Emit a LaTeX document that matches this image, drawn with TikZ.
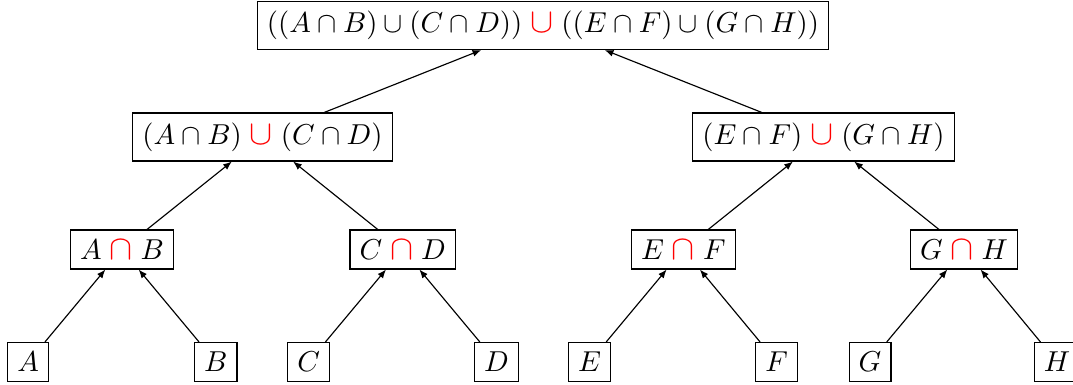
\documentclass[tikz,border=0pt]{standalone}
\usepackage{graphicx}
\usetikzlibrary{arrows.meta}
\newcommand{\rcup}{\mathrel{\textcolor{red}{\scalebox{1.2}{$\cup$}}}}
\newcommand{\rcap}{\mathrel{\textcolor{red}{\scalebox{1.2}{$\cap$}}}}
\begin{document}
\begin{tikzpicture}[x=0.3472pt,y=-0.3472pt,
  box/.style={draw, inner sep=3.333pt},
  edge/.style={-{Latex[length=3pt,width=2.4pt]}}]
\useasboundingbox (0,0) rectangle (1073,385);
\node[box] (top) at (543,25.5) {$((A\cap B)\cup(C\cap D))\rcup((E\cap F)\cup(G\cap H))$};
\node[box] (abcd) at (262.5,137) {$(A\cap B)\rcup(C\cap D)$};
\node[box] (efgh) at (823.5,137) {$(E\cap F)\rcup(G\cap H)$};
\node[box] (ab) at (122,249.5) {$A\rcap B$};
\node[box] (cd) at (402.7,249.5) {$C\rcap D$};
\node[box] (ef) at (683.3,249.5) {$E\rcap F$};
\node[box] (gh) at (964,249.5) {$G\rcap H$};
\node[box] (a) at (28.3,362) {$A$};
\node[box] (b) at (215.7,362) {$B$};
\node[box] (c) at (308.7,362) {$C$};
\node[box] (d) at (496.5,362) {$D$};
\node[box] (e) at (589.5,362) {$E$};
\node[box] (f) at (776.7,362) {$F$};
\node[box] (g) at (870,362) {$G$};
\node[box] (h) at (1057,362) {$H$};
\draw[edge] (abcd) -- (top);
\draw[edge] (efgh) -- (top);
\draw[edge] (ab) -- (abcd);
\draw[edge] (cd) -- (abcd);
\draw[edge] (ef) -- (efgh);
\draw[edge] (gh) -- (efgh);
\draw[edge] (a) -- (ab);
\draw[edge] (b) -- (ab);
\draw[edge] (c) -- (cd);
\draw[edge] (d) -- (cd);
\draw[edge] (e) -- (ef);
\draw[edge] (f) -- (ef);
\draw[edge] (g) -- (gh);
\draw[edge] (h) -- (gh);
\end{tikzpicture}
\end{document}
